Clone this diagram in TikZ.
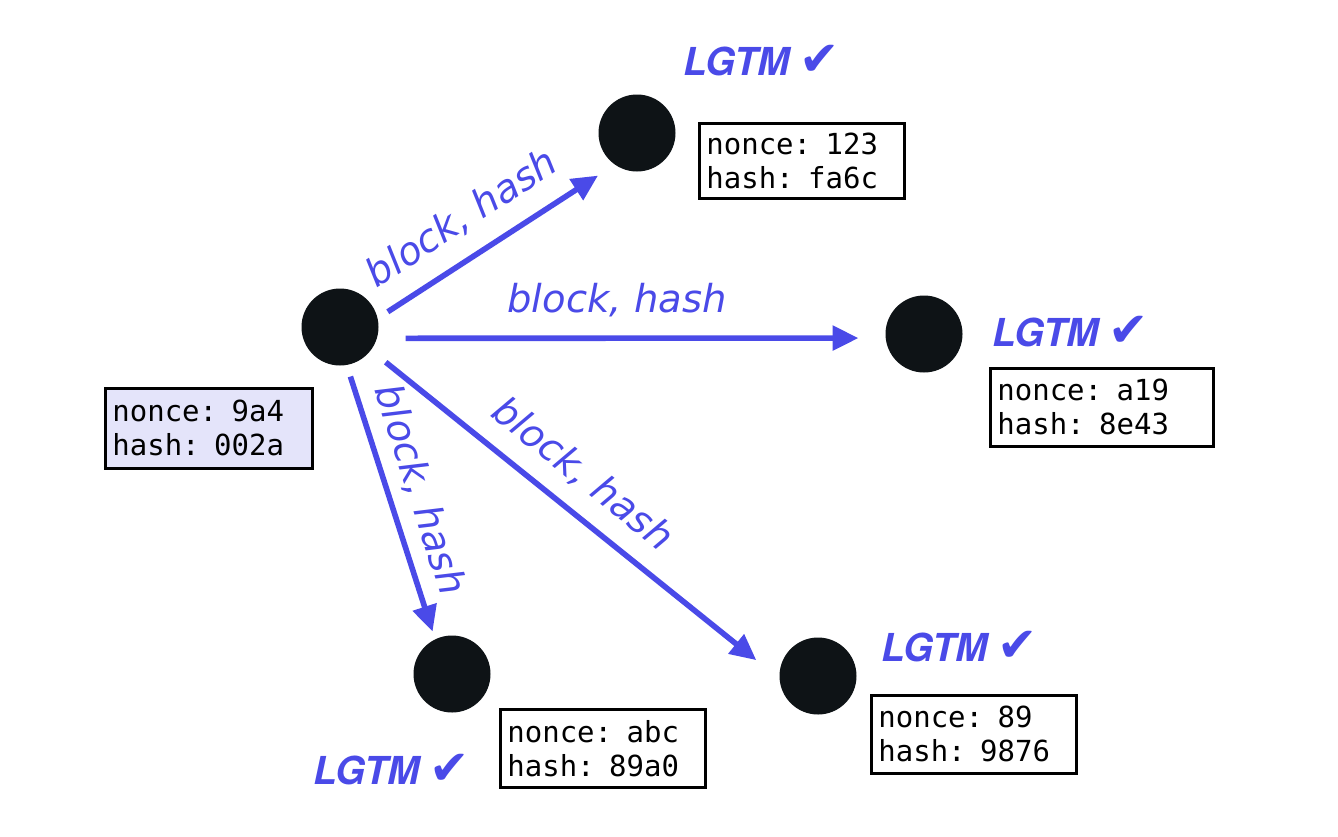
\documentclass[tikz,border=0pt]{standalone}
\usepackage{fontspec}
\usetikzlibrary{arrows.meta}
\newfontfamily\lgtmfont{TeX Gyre Heros}
\newfontfamily\labfont{DejaVu Sans}
\newfontfamily\boxmono{DejaVu Sans Mono}
\newfontfamily\checkfont{DejaVu Sans}
\definecolor{msgblue}{RGB}{74,74,232}
\definecolor{dotcol}{RGB}{14,19,22}
\definecolor{lav}{RGB}{228,228,250}
\newcommand{\okmark}{LGTM\hspace{0.25em}{\checkfont\mdseries\upshape\fontsize{48}{50}\selectfont ✔}}
\begin{document}
\begin{tikzpicture}[x=1pt,y=-1pt,
  peer/.style={circle,fill=dotcol,minimum size=77pt,inner sep=0pt},
  infobox/.style={draw=black,line width=2.8pt,anchor=north west,inner xsep=7pt,inner ysep=0pt,align=left,
    font=\boxmono\fontsize{29}{34}\selectfont},
  msg/.style={draw=msgblue,line width=5.6pt,-{Triangle[length=26pt,width=24pt]}},
  msglabel/.style={sloped,inner sep=0pt,text=msgblue,font=\labfont\itshape\fontsize{38.5}{40}\selectfont},
  lgtm/.style={anchor=base west,inner sep=0pt,text=msgblue,font=\lgtmfont\bfseries\itshape\fontsize{38.5}{40}\selectfont}]
\fill[white] (0,0) rectangle (1338,836);
\useasboundingbox (0,0) rectangle (1338,836);

% peers
\node[peer] (S) at (340,327) {};
\node[peer] (T) at (637,133) {};
\node[peer] (R) at (924,334) {};
\node[peer] (BL) at (452,674) {};
\node[peer] (BR) at (818,676) {};

% info boxes
\node[infobox,fill=lav,text width=193pt,minimum height=80pt] (sbox) at (104,387) {nonce: 9a4\\hash: 002a};
\node[infobox,text width=191pt,minimum height=75pt] (tbox) at (698,122) {nonce: 123\\hash: fa6c};
\node[infobox,text width=209pt,minimum height=78pt] (rbox) at (989,367) {nonce: a19\\hash: 8e43};
\node[infobox,text width=191pt,minimum height=78pt] (blbox) at (499,708) {nonce: abc\\hash: 89a0};
\node[infobox,text width=191pt,minimum height=78pt] (brbox) at (870,694) {nonce: 89\\hash: 9876};

% messages
\draw[msg,shorten <=12pt,shorten >=20pt] (S.13) -- (T.235)
  node[msglabel,pos=0.442,above=18.5pt] (lt) {block, hash};
\draw[msg,shorten <=28.6pt,shorten >=27pt] (S.-17) -- (R.186)
  node[msglabel,pos=0.472,above=18.5pt] (lr) {block, hash};
\draw[msg,shorten <=12pt,shorten >=8pt] (S.-80) -- (BL.116)
  node[msglabel,pos=0.491,above=11.5pt] (lbl) {block, hash};
\draw[msg,shorten <=19pt,shorten >=29.6pt] (S.-37) -- (BR.184)
  node[msglabel,pos=0.463,above=16.5pt] (lbr) {block, hash};

% approvals
\node[lgtm] (okT) at (683,75) {\okmark};
\node[lgtm] (okR) at (992,346) {\okmark};
\node[lgtm] (okBR) at (881,661) {\okmark};
\node[lgtm] (okBL) at (313,784) {\okmark};
\end{tikzpicture}
\end{document}
